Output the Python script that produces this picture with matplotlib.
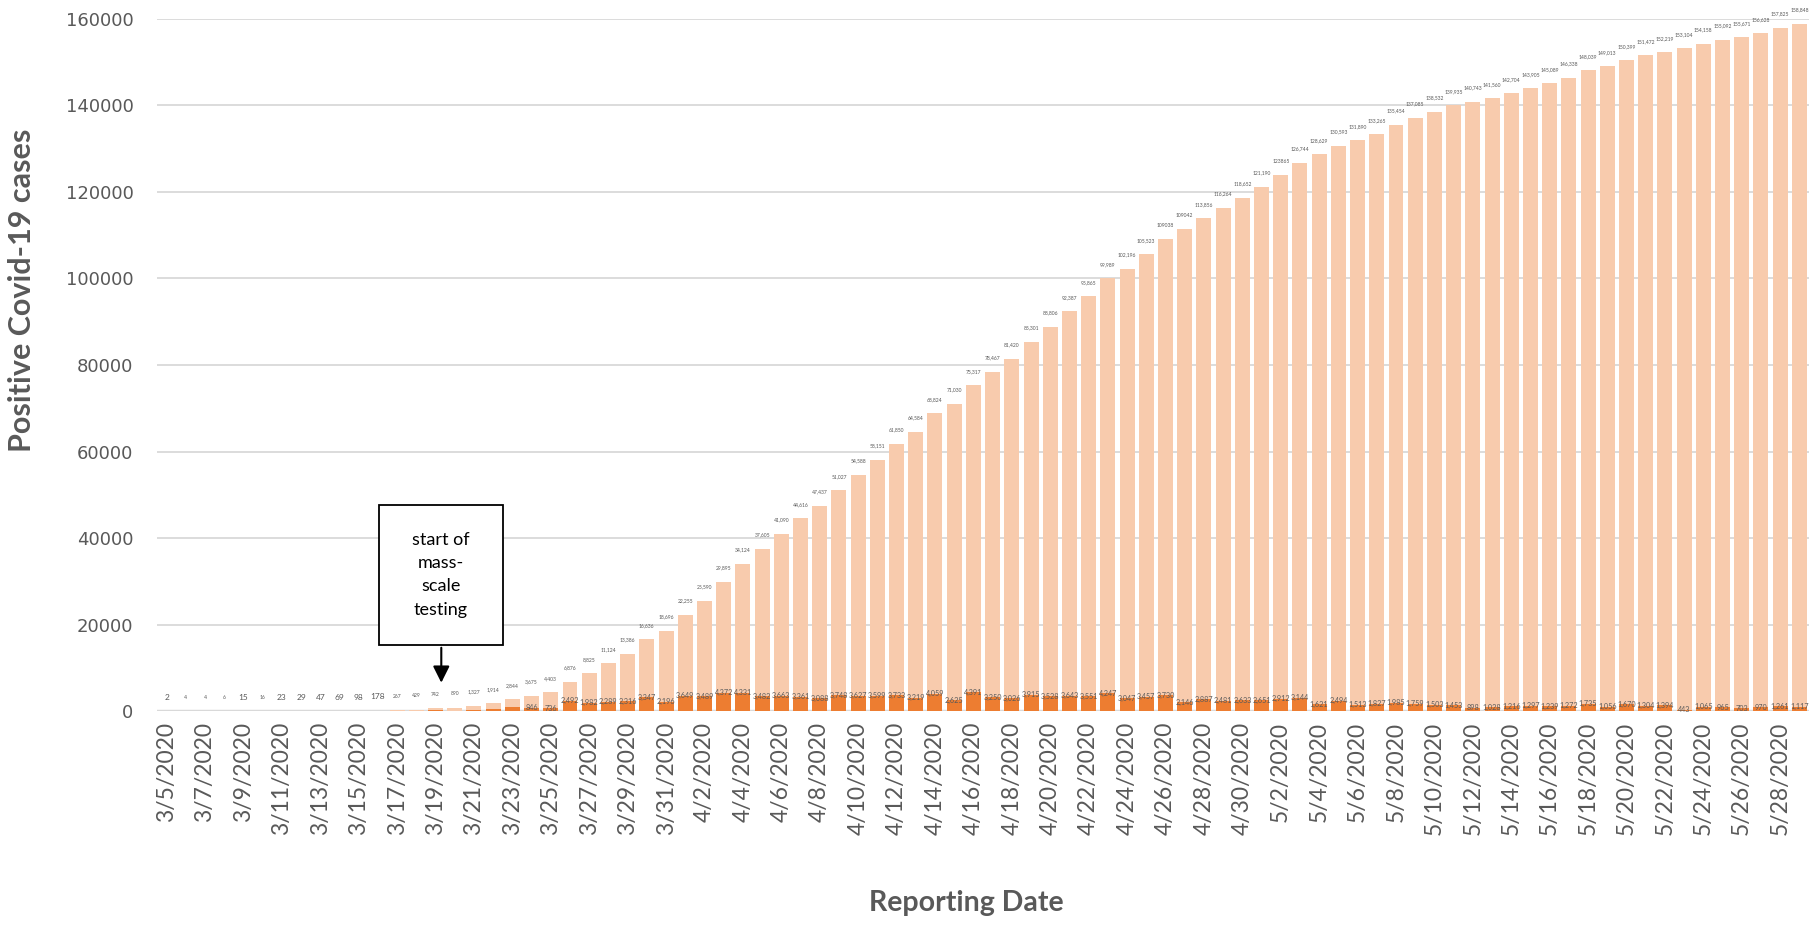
import matplotlib
matplotlib.use('Agg')
import matplotlib.pyplot as plt
import pandas as pd
from matplotlib.patches import Rectangle

dates = [f"{d.month}/{d.day}/{d.year}" for d in pd.date_range('2020-03-05', '2020-05-29')]

# cumulative positive cases (light bars)
total_cases = [2, 4, 4, 6, 15, 16, 23, 29, 47, 69, 98, 178, 267, 429, 742, 890,
               1327, 1914, 2844, 3675, 4403, 6876, 8825, 11124, 13386, 16636, 18696,
               22255, 25590, 29895, 34124, 37605, 41090, 44616, 47437, 51027, 54588,
               58151, 61850, 64584, 68824, 71030, 75317, 78467, 81420, 85301, 88806,
               92387, 95865, 99989, 102196, 105523, 109038, 111400, 113856, 116264, 118652,
               121190, 123865, 126744, 128629, 130593, 131890, 133265, 135454, 137085, 138532,
               139935, 140743, 141560, 142704, 143905, 145089, 146338, 148039, 149013, 150399,
               151472, 152219, 153104, 154158, 155092, 155671, 156628, 157825, 158848]

# new cases per day (dark bars)
new_cases = [2, 2, 0, 2, 9, 1, 7, 6, 18, 22, 29, 80, 89, 162, 313, 148, 437, 587, 930, 846,
             736, 2492, 1982, 2289, 2316, 3347, 2196,
             3649, 3489, 4372, 4331, 3482, 3663, 3361, 3088, 3748, 3627,
             3599, 3733, 3219, 4059, 2625, 4391, 3250, 3026, 3915, 3528,
             3643, 3551, 4247, 3047, 3457, 3730, 2146, 2887, 2481, 2633,
             2651, 2912, 3144, 1621, 2494, 1513, 1827, 1985, 1759, 1503,
             1453, 898, 1028, 1216, 1297, 1239, 1272, 1735, 1056, 1670,
             1304, 1394, 443, 1065, 965, 703, 970, 1261, 1117]

# labels printed differently in the source chart
label_text = {'4/26/2020': '109038', '4/27/2020': '109042', '5/2/2020': '123865'}
big_label_days = ['3/5/2020', '3/9/2020', '3/11/2020', '3/12/2020', '3/13/2020',
                  '3/14/2020', '3/15/2020', '3/16/2020']
first_daily_label = '3/24/2020'

FONT = ['Lato', 'DejaVu Sans']
GRAY = '#595959'

fig = plt.figure(figsize=(18.17, 9.27), dpi=100)
ax = fig.add_axes([0.0864, 0.2325, 0.9092, 0.7475])

x = list(range(len(dates)))
ax.bar(x, total_cases, width=0.78, color='#F8CBAD', zorder=2)
ax.bar(x, new_cases, width=0.78, color='#ED7D31', zorder=3)

for i, v in enumerate(total_cases):
    txt = label_text.get(dates[i], f"{v:,}")
    size = 6 if dates[i] in big_label_days else 3.6
    ax.annotate(txt, (i, v), xytext=(0, 10), textcoords='offset points',
                ha='center', va='center', fontsize=size, color=GRAY,
                family=FONT, annotation_clip=False, zorder=4)

start = dates.index(first_daily_label)
for i in range(start, len(dates)):
    ax.annotate(f"{new_cases[i]:,}", (i, new_cases[i]), ha='center', va='center',
                fontsize=5.2, color=GRAY, family=FONT, zorder=4)

ax.set_xlim(-0.5, len(dates) - 0.5)
ax.set_ylim(0, 160000)
ax.set_yticks(range(0, 160001, 20000))
ax.yaxis.grid(True, color='#D9D9D9', lw=1.3)
ax.set_axisbelow(True)
ax.axhline(0, color='#D9D9D9', lw=2.5, zorder=1)
for s in ax.spines.values():
    s.set_visible(False)

ax.set_xticks(x[::2])
ax.set_xticklabels(dates[::2], rotation=90, fontsize=16.5, color=GRAY, family=FONT)
ax.tick_params(axis='x', length=0, pad=7.5)
ax.tick_params(axis='y', length=0, pad=17, labelsize=13, labelcolor=GRAY)

fig.text(22 / 1817, 1 - 290 / 927, 'Positive Covid-19 cases', rotation=90, ha='center',
         va='center', fontsize=22, fontweight='bold', color=GRAY, family=FONT)
fig.text(966 / 1817, 1 - 903 / 927, 'Reporting Date', ha='center', va='center',
         fontsize=20.5, fontweight='bold', color=GRAY, family=FONT)

# callout
ax.add_patch(Rectangle((11.04, 15360), 6.46, 32340, facecolor='white', edgecolor='black',
                       lw=1.3, zorder=5))
ax.text(14.27, 31530, 'start of\nmass-\nscale\ntesting', ha='center', va='center',
        fontsize=13, family=FONT, linespacing=1.55, zorder=6)
ax.annotate('', xy=(14.3, 6000), xytext=(14.3, 15360),
            arrowprops=dict(arrowstyle='-|>', color='black', lw=1.5, mutation_scale=25),
            zorder=6)

fig.savefig('out.png', dpi=100)
